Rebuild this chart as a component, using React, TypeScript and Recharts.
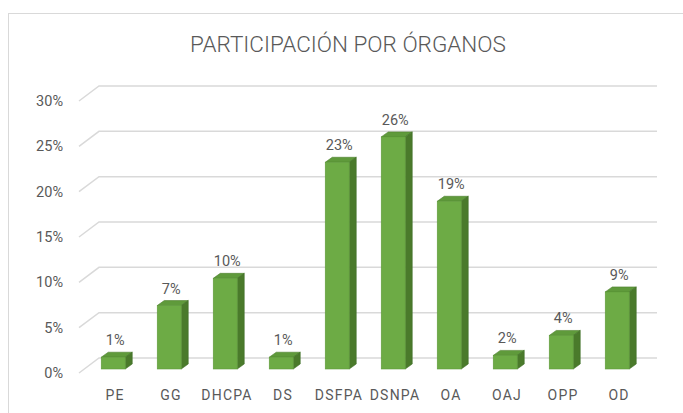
import { BarChart, Bar, XAxis, YAxis, CartesianGrid } from 'recharts'

const categories = ['PE', 'GG', 'DHCPA', 'DS', 'DSFPA', 'DSNPA', 'OA', 'OAJ', 'OPP', 'OD']
const shares = [1.3, 7.0, 10.0, 1.3, 22.8, 25.6, 18.5, 1.5, 3.7, 8.5]
const yTicks = [0, 5, 10, 15, 20, 25, 30]

const chartData = categories.map((name, i) => ({ name, value: shares[i] }))

const TEXT = '#595959'
const FONT = 'Roboto, "Open Sans", sans-serif'

// depth of the 3D bars
const DX = 7
const DY = 5
const SHIFT = -4

function Bar3D(props: any) {
  const { x, y, width, height, value } = props
  const top = y + SHIFT
  const bottom = top + height
  return (
    <g>
      <polygon
        points={`${x},${top} ${x + DX},${top - DY} ${x + width + DX},${top - DY} ${x + width},${top}`}
        fill="#5f9a3b"
        stroke="#4d7f2e"
        strokeWidth={0.6}
      />
      <polygon
        points={`${x + width},${top} ${x + width + DX},${top - DY} ${x + width + DX},${bottom - DY} ${x + width},${bottom}`}
        fill="#4a7a2b"
        stroke="#41702a"
        strokeWidth={0.6}
      />
      <rect x={x} y={top} width={width} height={height} fill="#6dab45" stroke="#5e9a3a" strokeWidth={0.6} />
      <text x={x + width / 2 + 2} y={top - 12} textAnchor="middle" fontSize={14.5} fill={TEXT} fontFamily={FONT}>
        {Math.round(value)}%
      </text>
    </g>
  )
}

// back-wall gridline: short diagonal at the floor edge, then across the wall
function GridLine(props: any) {
  const { x1, x2, y1 } = props
  return (
    <path
      key={props.key}
      d={`M${x1 - 6},${y1} L${x1 + 14},${y1 - 15} L${x2 + 12},${y1 - 15}`}
      stroke="#d9d9d9"
      strokeWidth={1.5}
      fill="none"
    />
  )
}

function YTick(props: any) {
  const { y, payload } = props
  return (
    <text x={63} y={y + 5} textAnchor="end" fontSize={14.5} fill={TEXT} fontFamily={FONT}>
      {payload.value}%
    </text>
  )
}

function XTick(props: any) {
  const { x, payload } = props
  return (
    <text x={x + 2} y={400} textAnchor="middle" fontSize={14} letterSpacing={1.2} fill={TEXT} fontFamily={FONT}>
      {payload.value}
    </text>
  )
}

export default function App() {
  return (
    <div style={{ position: 'absolute', left: 0, top: 0, width: 683, height: 413, overflow: 'hidden', background: '#fff' }}>
      <div
        style={{
          position: 'absolute',
          left: 8,
          top: 13,
          width: 720,
          height: 440,
          borderTop: '1px solid #d9d9d9',
          borderLeft: '1px solid #d9d9d9',
        }}
      />
      <svg width={683} height={70} style={{ position: 'absolute', left: 0, top: 0 }}>
        <text x={348} y={52} textAnchor="middle" fontSize={22.5} fontWeight={300} fill={TEXT} fontFamily={FONT}>
          PARTICIPACIÓN POR ÓRGANOS
        </text>
      </svg>
      <div style={{ position: 'absolute', left: 0, top: 0 }}>
        <BarChart
          width={683}
          height={413}
          data={chartData}
          margin={{ top: 101, right: 38, bottom: 10, left: 0 }}
          barCategoryGap="29%"
        >
          <CartesianGrid vertical={false} horizontal={GridLine} />
          <XAxis dataKey="name" axisLine={false} tickLine={false} height={30} tick={XTick} interval={0} />
          <YAxis
            width={85}
            domain={[0, 30]}
            ticks={yTicks}
            axisLine={false}
            tickLine={false}
            tick={YTick}
            interval={0}
          />
          <Bar dataKey="value" shape={Bar3D} isAnimationActive={false} />
        </BarChart>
      </div>
    </div>
  )
}
